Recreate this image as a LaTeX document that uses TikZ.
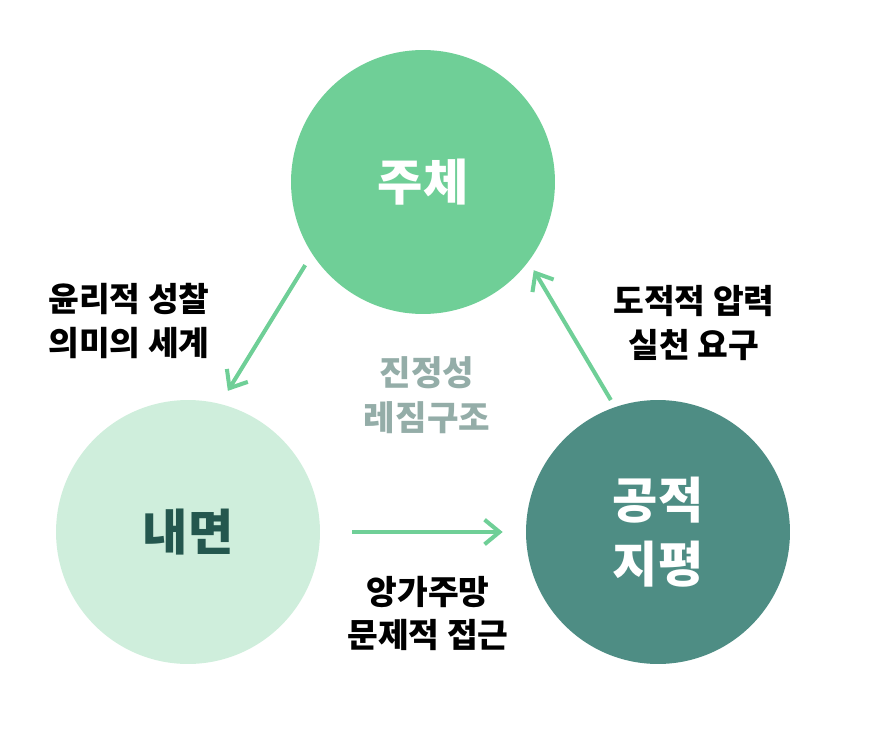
\documentclass[tikz,border=0pt]{standalone}
\usepackage{fontspec}
\usepackage{tikz}
\usetikzlibrary{arrows.meta}
\setmainfont{Noto Sans CJK KR}[BoldFont={Noto Sans CJK KR Black}]

\definecolor{subjgreen}{HTML}{6FCF97}
\definecolor{innermint}{HTML}{CFEEDC}
\definecolor{innerdark}{HTML}{24574E}
\definecolor{publicteal}{HTML}{4E8D84}
\definecolor{regimegray}{HTML}{94ADA8}

\begin{document}
\begin{tikzpicture}[x=0.02cm, y=-0.02cm,
    sphere/.style={circle, minimum size=5.28cm, inner sep=0pt,
        font=\bfseries\fontsize{28}{36}\selectfont, align=center},
    caption/.style={font=\bfseries\fontsize{19}{24.5}\selectfont, align=center},
    flow/.style={-{Straight Barb[length=8.5pt, width=14pt]}, subjgreen, line width=2.3pt}]
    % Fix the page size
    \useasboundingbox (0,0) rectangle (882,730);

    % Draw the three circles
    \node[sphere, fill=subjgreen, text=white] (subject) at (423,182) {주체};
    \node[sphere, fill=innermint, text=innerdark] (inner) at (188,532) {내면};
    \node[sphere, fill=publicteal, text=white] (public) at (658,532) {공적\\지평};

    % Draw the arrows between the circles
    \draw[flow, shorten <=0.26cm, shorten >=0.3cm] (subject.213) -- (inner.76);
    \draw[flow, shorten <=0.64cm, shorten >=0.46cm] (inner) -- (public);
    \draw[flow, shorten <=0.16cm, shorten >=0.2cm] (public.109) -- (subject.-37);

    % Labels next to the arrows
    \node[caption] (ethics) at (129,321) {윤리적 성찰\\의미의 세계};
    \node[caption] (pressure) at (694,323) {도적적 압력\\실천 요구};
    \node[caption] (engage) at (428,613) {앙가주망\\문제적 접근};

    % Label in the middle
    \node[caption, text=regimegray, font=\bfseries\fontsize{19.5}{25.5}\selectfont] (regime) at (427,395) {진정성\\레짐구조};
\end{tikzpicture}
\end{document}
